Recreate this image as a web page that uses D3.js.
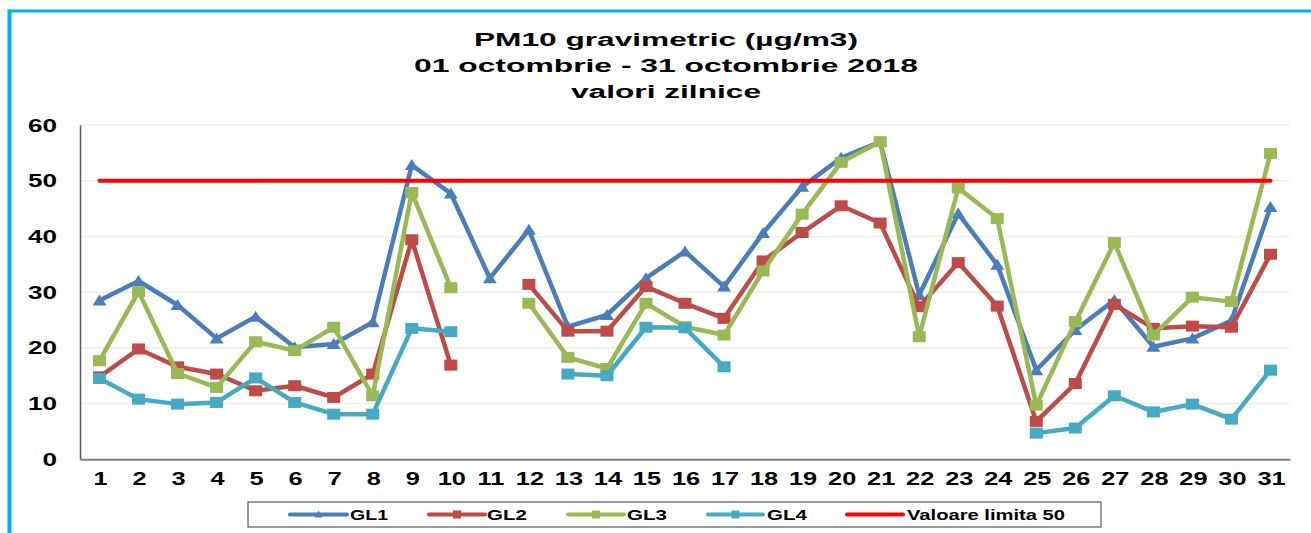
<!DOCTYPE html>
<html><head><meta charset="utf-8">
<script src="https://cdn.jsdelivr.net/npm/d3@7"></script>
<style>html,body{margin:0;padding:0;background:#fff;}svg{display:block;}</style>
</head><body>
<script>
const days = d3.range(1, 32).map(String);
const yTicks = [0, 10, 20, 30, 40, 50, 60];
const gl1 = [28.5,32.0,27.7,21.7,25.6,20.1,20.7,24.6,52.8,47.7,32.5,41.2,23.8,25.9,32.5,37.3,31.0,40.6,48.9,54.1,57.0,29.5,44.1,34.9,16.0,23.2,28.6,20.2,21.7,24.9,45.3];
const gl2 = [14.8,19.8,16.6,15.3,12.3,13.2,11.1,15.3,39.4,16.9,null,31.4,23.0,23.0,31.0,28.0,25.3,35.6,40.7,45.5,42.4,27.4,35.3,27.5,6.8,13.6,27.8,23.5,23.9,23.7,36.8];
const gl3 = [17.7,30.1,15.4,12.9,21.1,19.5,23.7,11.4,47.9,30.8,null,28.0,18.3,16.3,28.0,23.8,22.3,33.8,44.0,53.3,57.0,22.0,48.7,43.2,9.7,24.7,38.9,22.3,29.1,28.3,54.9];
const gl4 = [14.5,10.8,9.9,10.2,14.6,10.2,8.1,8.1,23.5,22.9,null,null,15.3,15.0,23.7,23.6,16.6,null,null,null,null,null,null,null,4.7,5.6,11.4,8.5,9.9,7.2,16.0];
const limit = days.map(() => 50);
const seriesNames = ["GL1", "GL2", "GL3", "GL4", "Valoare limita 50"];
const titleLines = ["PM10 gravimetric (µg/m3)", "01 octombrie - 31 octombrie 2018", "valori zilnice"];

const W = 1311, H = 533;
const FONT = "'Liberation Sans', Arial, sans-serif";
const SX = 1.45;
const svg = d3.select("body").append("svg").attr("width", W).attr("height", H);

// frame
svg.append("line").attr("x1", 9.5).attr("x2", W).attr("y1", 11).attr("y2", 11).attr("stroke", "#00B0F0").attr("stroke-width", 3);
svg.append("line").attr("x1", 9.5).attr("x2", 9.5).attr("y1", 9.5).attr("y2", H).attr("stroke", "#00B0F0").attr("stroke-width", 4);

function stext(g, x, y, txt, size, anchor, len) {
  const t = g.append("text").attr("transform", `translate(${x},${y}) scale(${len ? 1 : SX},1)`)
    .attr("font-family", FONT).attr("font-weight", "bold").attr("font-size", size)
    .attr("text-anchor", anchor).attr("fill", "#000").text(txt);
  if (len) t.attr("textLength", len).attr("lengthAdjust", "spacingAndGlyphs");
  return t;
}

// title
const tl = [[46, 384], [72, 504], [98, 190]];
titleLines.forEach((s, i) => stext(svg, 666, tl[i][0], s, 18, "middle", tl[i][1]));

const x = d3.scaleBand().domain(days).range([80, 1290]);
const y = d3.scaleLinear().domain([0, 60]).range([459.3, 125]);
const cx = d => x(d) + x.bandwidth() / 2;

// gridlines
svg.append("g").selectAll("line").data(yTicks.filter(v => v > 0)).join("line")
  .attr("x1", 80).attr("x2", 1290).attr("y1", d => y(d)).attr("y2", d => y(d))
  .attr("stroke", "#EFEEE8").attr("stroke-width", 1.5);

// axes
const yAxis = svg.append("g").attr("transform", "translate(80,0)")
  .call(d3.axisLeft(y).tickValues(yTicks).tickSize(0).tickFormat(""));
yAxis.select(".domain").attr("stroke", "#595959").attr("stroke-width", 1.5);
const xAxis = svg.append("g").attr("transform", "translate(0,459.3)")
  .call(d3.axisBottom(x).tickSize(0).tickFormat(""));
xAxis.select(".domain").attr("stroke", "#7F7F7F").attr("stroke-width", 2);

const lbl = svg.append("g");
yTicks.forEach(v => stext(lbl, 57, y(v) + 6.5, String(v), 18, "end"));
days.forEach(d => stext(lbl, cx(d) + 1, 485, d, 17.5, "middle"));

const series = [
  {name: "GL1", vals: gl1, color: "#4A7EBB", marker: "tri"},
  {name: "GL2", vals: gl2, color: "#BE4B48", marker: "sq"},
  {name: "GL3", vals: gl3, color: "#98B954", marker: "sq"},
  {name: "GL4", vals: gl4, color: "#46AAC5", marker: "sq"}
];

const line = d3.line().defined(d => d.v != null).x(d => cx(d.day)).y(d => y(d.v));

series.forEach(s => {
  const data = days.map((d, i) => ({day: d, v: s.vals[i]}));
  const g = svg.append("g");
  g.append("path").datum(data).attr("d", line).attr("fill", "none")
    .attr("stroke", s.color).attr("stroke-width", 4.5).attr("stroke-linejoin", "round");
  const pts = data.filter(d => d.v != null);
  if (s.marker === "sq") {
    g.selectAll("rect").data(pts).join("rect")
      .attr("x", d => cx(d.day) - 6.5).attr("y", d => y(d.v) - 5.5)
      .attr("width", 13).attr("height", 11).attr("fill", s.color);
  } else {
    g.selectAll("path.m").data(pts).join("path").attr("class", "m")
      .attr("d", d => { const px = cx(d.day), py = y(d.v); return `M${px-7},${py+5}L${px+7},${py+5}L${px},${py-6}Z`; })
      .attr("fill", s.color);
  }
});

// limit line
svg.append("path").datum(days.map((d, i) => ({day: d, v: limit[i]}))).attr("d", line)
  .attr("fill", "none").attr("stroke", "#FF0000").attr("stroke-width", 4).attr("stroke-linecap", "round");

// legend
const lg = svg.append("g");
lg.append("rect").attr("x", 248).attr("y", 502).attr("width", 853).attr("height", 25)
  .attr("fill", "#fff").attr("stroke", "#595959").attr("stroke-width", 1.2);
const legItems = [
  {x1: 290, x2: 347, tx: 350, tl: 38, color: "#4A7EBB", marker: "tri"},
  {x1: 429, x2: 485, tx: 487, tl: 40, color: "#BE4B48", marker: "sq"},
  {x1: 568, x2: 624, tx: 627, tl: 40, color: "#98B954", marker: "sq"},
  {x1: 708, x2: 763, tx: 767, tl: 40, color: "#46AAC5", marker: "sq"},
  {x1: 847, x2: 903, tx: 907, tl: 158, color: "#FF0000", marker: null}
];
legItems.forEach((it, i) => {
  const ly = 514.5;
  lg.append("line").attr("x1", it.x1).attr("x2", it.x2).attr("y1", ly).attr("y2", ly)
    .attr("stroke", it.color).attr("stroke-width", 4).attr("stroke-linecap", "round");
  const mx = (it.x1 + it.x2) / 2;
  if (it.marker === "sq") lg.append("rect").attr("x", mx - 4).attr("y", ly - 4).attr("width", 8).attr("height", 8).attr("fill", it.color);
  else if (it.marker === "tri") lg.append("path").attr("d", `M${mx-4},${ly+3}L${mx+4},${ly+3}L${mx},${ly-4}Z`).attr("fill", it.color);
  stext(lg, it.tx, ly + 5, seriesNames[i], 14, "start", it.tl);
});
</script>
</body></html>
